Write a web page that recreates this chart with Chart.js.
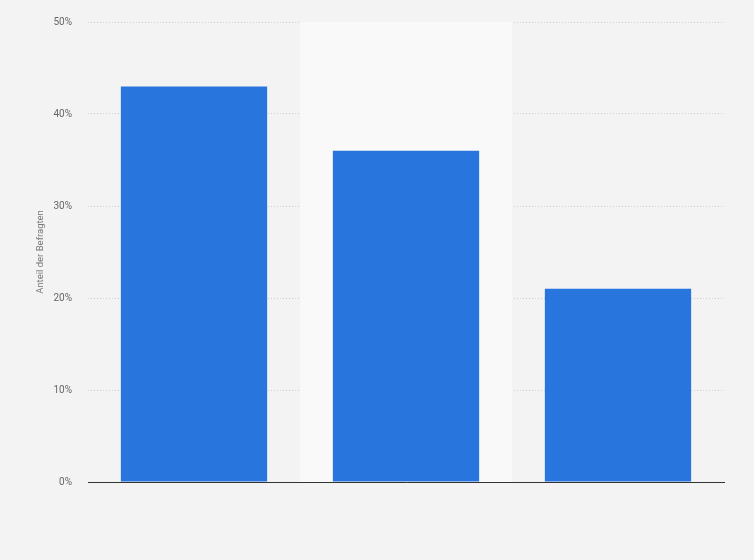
<!DOCTYPE html>
<html>
<head>
<meta charset="utf-8">
<script src="https://cdn.jsdelivr.net/npm/chart.js@4"></script>
<style>
  html, body { margin:0; padding:0; background:#f3f3f3; }
  #wrap { width:754px; height:560px; }
</style>
</head>
<body>
<div id="wrap"><canvas id="chart" width="754" height="560"></canvas></div>
<script>
// values
const categories = ["Antwort 1", "Antwort 2", "Antwort 3"];
const shares = [43, 36, 21];
const yTicks = [0, 10, 20, 30, 40, 50];
const highlightIndex = 1;

// lighter band behind the highlighted category
const bandPlugin = {
  id: "band",
  beforeDatasetsDraw(chart) {
    const x = chart.scales.x, area = chart.chartArea;
    const step = (x.right - x.left) / categories.length;
    const left = x.getPixelForValue(highlightIndex) - step / 2;
    const ctx = chart.ctx;
    ctx.save();
    ctx.fillStyle = "#f9f9f9";
    ctx.fillRect(left, area.top, step, area.bottom - area.top);
    ctx.restore();
  }
};

new Chart(document.getElementById("chart"), {
  type: "bar",
  data: {
    labels: categories,
    datasets: [{
      data: shares,
      backgroundColor: "#2876dd",
      barPercentage: 0.69,
      categoryPercentage: 1
    }]
  },
  plugins: [bandPlugin],
  options: {
    responsive: false,
    animation: false,
    layout: { padding: { left: 30, right: 30, top: 17, bottom: 70 } },
    plugins: { legend: { display: false }, tooltip: { enabled: false } },
    scales: {
      x: {
        grid: { display: false },
        border: { display: true, color: "#333", width: 1 },
        ticks: { display: false }
      },
      y: {
        min: 0, max: 50,
        afterFit(scale) { scale.width = 58; },
        afterBuildTicks(scale) { scale.ticks = yTicks.map(v => ({ value: v })); },
        grid: { color: "#cfcfcf", lineWidth: 1, drawTicks: false },
        border: { display: false, dash: [1, 2] },
        ticks: {
          padding: 16,
          color: "#666",
          font: { family: "Roboto", size: 10 },
          callback: v => v + "%"
        },
        title: {
          display: true,
          text: "Anteil der Befragten",
          color: "#777",
          font: { family: "Roboto", size: 9.5 },
          padding: { top: 5, bottom: 0 }
        }
      }
    }
  }
});
</script>
</body>
</html>
